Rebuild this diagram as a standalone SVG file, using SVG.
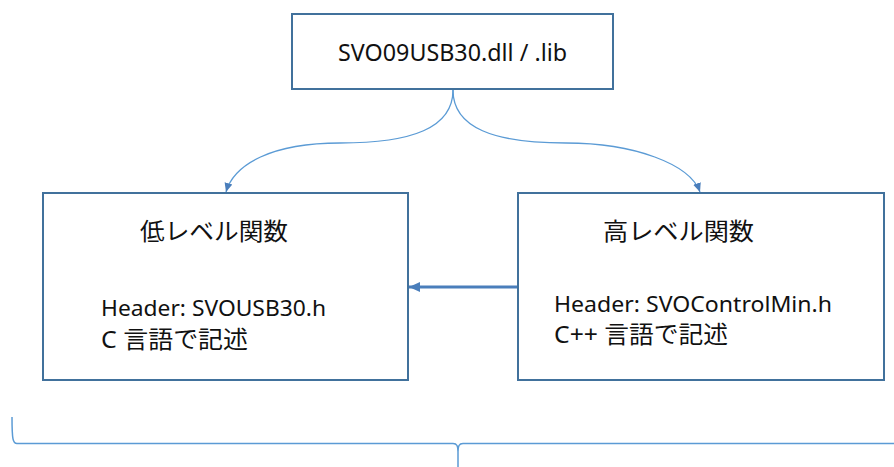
<svg xmlns="http://www.w3.org/2000/svg" width="894" height="467" viewBox="0 0 894 467">
  <style>
    .box { fill: #ffffff; stroke: #41719C; stroke-width: 2; }
    .lbl { font-family: "Noto Sans", "Noto Sans CJK JP", sans-serif; fill: #111111; }
    .curve { fill: none; stroke: #5B9BD5; stroke-width: 1.3; }
    .call { fill: none; stroke: #4A7EBB; stroke-width: 3; }
    .brace { fill: none; stroke: #5B9BD5; stroke-width: 1.5; }
  </style>
  <defs>
    <marker id="headThin" markerUnits="userSpaceOnUse" markerWidth="10" markerHeight="10" refX="9" refY="5" orient="auto">
      <path d="M0,1 L9,5 L0,9 Z" fill="#4A7EBB"/>
    </marker>
    <marker id="headBold" markerUnits="userSpaceOnUse" markerWidth="12" markerHeight="12" refX="11" refY="6" orient="auto">
      <path d="M0,1 L11,6 L0,11 Z" fill="#4A7EBB"/>
    </marker>
  </defs>

  <rect width="894" height="467" fill="#ffffff"/>

  <!-- connectors -->
  <g id="connectors">
    <path class="curve" d="M453,90 C453,128 412,143 340,143 C272,143 234,164 226,192" marker-end="url(#headThin)"/>
    <path class="curve" d="M453,90 C453,128 494,143 566,143 C634,143 690,164 700,192" marker-end="url(#headThin)"/>
    <path class="call" d="M518,287 L409,287" marker-end="url(#headBold)"/>
  </g>

  <!-- library -->
  <g id="dll">
    <rect class="box" x="292" y="14" width="321" height="75"/>
    <text class="lbl" x="338" y="61" font-size="23" textLength="229" lengthAdjust="spacingAndGlyphs">SVO09USB30.dll / .lib</text>
  </g>

  <!-- low-level API -->
  <g id="lowlevel">
    <rect class="box" x="43" y="193" width="365" height="187"/>
    <text class="lbl" x="140" y="240" font-size="24" textLength="148" lengthAdjust="spacingAndGlyphs">低レベル関数</text>
    <text class="lbl" x="101" y="316" font-size="21" textLength="225" lengthAdjust="spacingAndGlyphs">Header: SVOUSB30.h</text>
    <text class="lbl" x="101" y="348" font-size="24" textLength="147" lengthAdjust="spacingAndGlyphs">C 言語で記述</text>
  </g>

  <!-- high-level API -->
  <g id="highlevel">
    <rect class="box" x="518" y="193" width="366" height="187"/>
    <text class="lbl" x="603" y="240" font-size="24" textLength="151" lengthAdjust="spacingAndGlyphs">高レベル関数</text>
    <text class="lbl" x="554" y="312" font-size="21" textLength="278" lengthAdjust="spacingAndGlyphs">Header: SVOControlMin.h</text>
    <text class="lbl" x="554" y="343" font-size="24" textLength="174" lengthAdjust="spacingAndGlyphs">C++ 言語で記述</text>
  </g>

  <!-- grouping brace -->
  <path class="brace" d="M12,417 C12,440 13,443.5 17,443.5 L453,443.5 C457,443.5 458,446 458,452 L458,467 M458,452 C458,446 459,443.5 463,443.5 L894,443.5"/>
</svg>
